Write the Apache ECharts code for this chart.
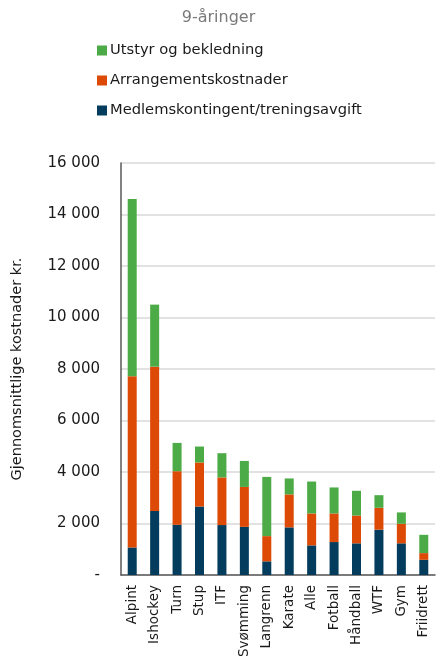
<!DOCTYPE html>
<html>
<head>
<meta charset="utf-8">
<script src="https://cdn.jsdelivr.net/npm/echarts@6/dist/echarts.min.js"></script>
<style>
  html, body { margin: 0; padding: 0; background: #fff; }
  #chart { width: 437px; height: 660px; }
</style>
</head>
<body>
<div id="chart"></div>
<script>
  const categories = ['Alpint', 'Ishockey', 'Turn', 'Stup', 'ITF', 'Svømming', 'Langrenn',
    'Karate', 'Alle', 'Fotball', 'Håndball', 'WTF', 'Gym', 'Friidrett']
  const medlemskontingent = [1070, 2490, 1950, 2660, 1940, 1870, 530, 1850, 1150, 1280, 1230, 1760, 1230, 590]
  const arrangement = [6650, 5600, 2080, 1710, 1850, 1550, 980, 1280, 1240, 1110, 1080, 850, 760, 260]
  const utstyr = [6880, 2410, 1100, 620, 940, 1010, 2300, 620, 1240, 1010, 960, 490, 440, 710]

  const font = '"DejaVu Sans", sans-serif'
  const chart = echarts.init(document.getElementById('chart'))

  let option = {
    animation: false,
    title: {
      text: '9-åringer',
      left: 'center',
      top: 5,
      textStyle: { color: '#7a7a7a', fontSize: 16, fontWeight: 'normal', fontFamily: font }
    },
    legend: {
      orient: 'vertical',
      left: 92,
      top: 38,
      itemWidth: 10,
      itemHeight: 10,
      itemGap: 15,
      icon: 'rect',
      data: ['Utstyr og bekledning', 'Arrangementskostnader', 'Medlemskontingent/treningsavgift'],
      textStyle: { color: '#1a1a1a', fontSize: 14.7, fontFamily: font, padding: [0, 0, 0, -2] }
    },
    grid: { left: 121, right: 2, top: 163, bottom: 84 },
    xAxis: {
      type: 'category',
      data: categories,
      axisLine: { lineStyle: { color: '#595959', width: 1.5 } },
      axisTick: { show: false },
      axisLabel: { rotate: 90, color: '#1a1a1a', fontSize: 13.5, fontFamily: font, margin: 10, interval: 0 }
    },
    yAxis: {
      type: 'value',
      min: 0,
      max: 16000,
      interval: 2000,
      name: 'Gjennomsnittlige kostnader kr.',
      nameLocation: 'middle',
      nameGap: 96,
      nameTextStyle: { color: '#1a1a1a', fontSize: 14.5, fontFamily: font },
      axisLine: { show: true, lineStyle: { color: '#595959', width: 1.5 } },
      axisTick: { show: false },
      splitLine: { lineStyle: { color: '#d9d9d9', width: 1.5 } },
      axisLabel: {
        color: '#1a1a1a',
        fontSize: 15,
        fontFamily: font,
        margin: 21,
        formatter: function (v) {
          return v === 0 ? '-' : String(v).replace(/\B(?=(\d{3})+(?!\d))/g, ' ')
        }
      }
    },
    series: [
      {
        name: 'Medlemskontingent/treningsavgift',
        type: 'bar',
        stack: 'total',
        barWidth: 9,
        itemStyle: { color: '#033c5c' },
        data: medlemskontingent
      },
      {
        name: 'Arrangementskostnader',
        type: 'bar',
        stack: 'total',
        barWidth: 9,
        itemStyle: { color: '#dd4a06' },
        data: arrangement
      },
      {
        name: 'Utstyr og bekledning',
        type: 'bar',
        stack: 'total',
        barWidth: 9,
        itemStyle: { color: '#4cab46' },
        data: utstyr
      }
    ]
  }

  chart.setOption(option)
</script>
</body>
</html>
